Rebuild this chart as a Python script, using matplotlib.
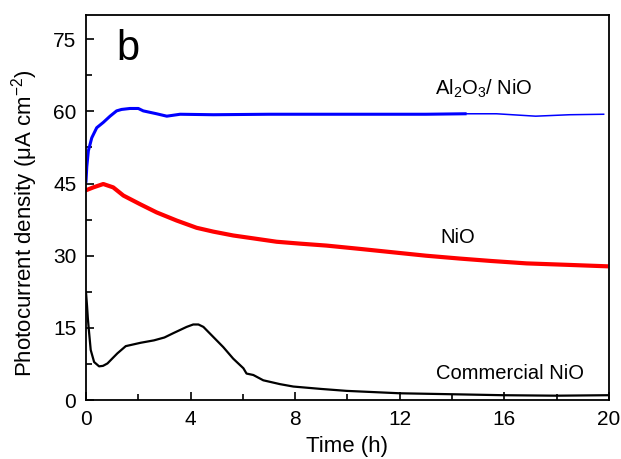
import numpy as np
import matplotlib
matplotlib.use("Agg")
import matplotlib.pyplot as plt
from matplotlib.ticker import MultipleLocator

plt.rcParams['font.family'] = ['Liberation Sans', 'DejaVu Sans']
plt.rcParams['mathtext.fontset'] = 'custom'
plt.rcParams['mathtext.rm'] = 'Liberation Sans'
plt.rcParams['mathtext.it'] = 'Liberation Sans:italic'

# Al2O3 / NiO (blue)
t_al = [0, 0.03, 0.09, 0.22, 0.41, 0.66, 0.92, 1.17, 1.36, 1.68, 2.0, 2.19, 2.7, 3.09,
        3.6, 4.87, 7.0, 9.0, 11.24, 13.0, 14.5, 15.7, 17.2, 18.5, 19.8]
j_al = [45.5, 48.5, 51.8, 54.5, 56.6, 57.7, 59.0, 60.1, 60.4, 60.6, 60.6, 60.1, 59.5, 59.0,
        59.4, 59.3, 59.4, 59.4, 59.4, 59.4, 59.5, 59.5, 59.0, 59.3, 59.4]

# NiO (red)
t_nio = [0, 0.28, 0.66, 1.04, 1.43, 2.07, 2.7, 3.47, 4.23, 4.87, 5.63, 6.4, 7.29, 8.2,
         9.2, 10.5, 11.75, 13.0, 14.3, 15.5, 16.85, 18.4, 19.9]
j_nio = [43.6, 44.2, 44.9, 44.2, 42.5, 40.7, 39.0, 37.3, 35.8, 35.0, 34.2, 33.6, 32.9, 32.5,
         32.1, 31.4, 30.7, 30.0, 29.4, 28.9, 28.4, 28.1, 27.8]

# Commercial NiO (black)
t_com = [0, 0.04, 0.07, 0.11, 0.18, 0.31, 0.5, 0.65, 0.82, 1.0, 1.2, 1.52, 2.09, 2.6,
         3.0, 3.34, 3.85, 4.1, 4.3, 4.49, 4.87, 5.25, 5.63, 6.02, 6.14, 6.4, 6.78, 7.42,
         7.93, 9.0, 9.97, 12.0, 14.0, 15.95, 18.0, 20.0]
j_com = [22.4, 19.5, 17.0, 14.5, 10.4, 7.9, 7.0, 7.1, 7.6, 8.6, 9.7, 11.2, 11.9, 12.4,
         13.0, 13.9, 15.2, 15.7, 15.7, 15.2, 13.1, 11.0, 8.6, 6.6, 5.5, 5.2, 4.1, 3.3,
         2.8, 2.3, 1.9, 1.4, 1.2, 1.0, 0.9, 1.0]

x_ticks = [0, 4, 8, 12, 16, 20]
y_ticks = [0, 15, 30, 45, 60, 75]

fig = plt.figure(figsize=(6.21, 4.59), dpi=100)
ax = fig.add_axes([0.1385, 0.1285, 0.842, 0.8385])

ta = np.array(t_al); ja = np.array(j_al)
m1 = ta <= 14.5
m2 = ta >= 14.5
ax.plot(ta[m1], ja[m1], color='#0000FF', lw=2.2)
ax.plot(ta[m2], ja[m2], color='#0000FF', lw=1.1)
ax.plot(t_nio, j_nio, color='#FF0000', lw=3.0)
ax.plot(t_com, j_com, color='black', lw=1.6)

ax.set_xlim(0, 20)
ax.set_ylim(0, 80)
ax.set_xticks(x_ticks)
ax.set_yticks(y_ticks)
ax.xaxis.set_minor_locator(MultipleLocator(2))
ax.yaxis.set_minor_locator(MultipleLocator(7.5))
ax.tick_params(which='both', direction='in', labelsize=15, width=1.2)
ax.tick_params(which='major', length=5.5, pad=7)
ax.tick_params(which='minor', length=4)
for s in ax.spines.values():
    s.set_linewidth(1.3)

ax.set_xlabel('Time (h)', fontsize=16)
ax.set_ylabel('Photocurrent density (μA cm$^{-2}$)', fontsize=16)
ax.xaxis.set_label_coords(0.5, -0.093)
ax.yaxis.set_label_coords(-0.088, 0.46)

ax.text(1.6, 73.0, 'b', fontsize=30, ha='center', va='center')
ax.text(15.2, 64.6, 'Al$_2$O$_3$/ NiO', fontsize=14.5, ha='center', va='center')
ax.text(14.2, 33.8, 'NiO', fontsize=14.5, ha='center', va='center')
ax.text(16.2, 5.6, 'Commercial NiO', fontsize=14.5, ha='center', va='center')

fig.savefig('out.png', dpi=100)
